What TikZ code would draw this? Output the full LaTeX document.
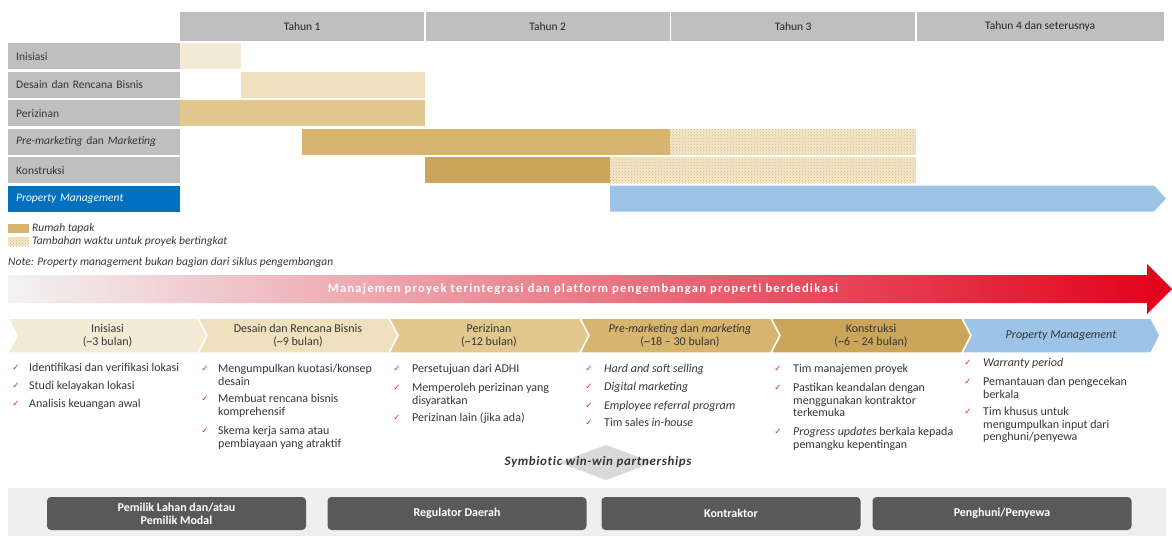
\documentclass[tikz,border=0pt]{standalone}
\usepackage{fontspec}
\setmainfont{Carlito}
\newfontfamily\checkfont{DejaVu Sans}
\newfontfamily\bannerfont[LetterSpace=10, Ligatures=NoCommon]{Carlito}
\newfontfamily\symbfont[LetterSpace=5, Ligatures=NoCommon]{Carlito}
\usetikzlibrary{patterns}

\definecolor{hdrgray}{HTML}{BFBFBF}
\definecolor{txtdark}{HTML}{363636}
\definecolor{pmblue}{HTML}{0070C0}
\definecolor{pmlight}{HTML}{9DC3E6}
\definecolor{tanA}{HTML}{F4EBD6}
\definecolor{tanB}{HTML}{F0E1BE}
\definecolor{tanC}{HTML}{E2C88E}
\definecolor{tanD}{HTML}{D7B56F}
\definecolor{tanE}{HTML}{CBA65A}
\definecolor{hatchbg}{HTML}{F3E6C8}
\definecolor{hatchdot}{HTML}{D9BE84}
\definecolor{bannerred}{HTML}{E2001A}
\definecolor{bannermid}{HTML}{EA4657}
\definecolor{bannerlight}{HTML}{F3F3F3}
\definecolor{panelgray}{HTML}{EFEFEF}
\definecolor{boxgray}{HTML}{595959}
\definecolor{diamondgray}{HTML}{D9D9D9}
\definecolor{checkred}{HTML}{E8212F}

% phase chevron: left, right, colour
\newcommand{\phasechev}[3]{%
  \fill[#3, draw=white, line width=1.5pt] (#1,318) -- (#2,318) -- (#2+9,335.5) -- (#2,353) -- (#1,353) -- (#1+9,335.5) -- cycle;
}
% ticked item: name, x of tick, x of text, y of first line, text
\newcommand{\chkitem}[5]{%
  \node[chk] (#1m) at (#2,#4) {✓};
  \node[bul] (#1) at (#3,#4-5) {#5};
}

\begin{document}
\begin{tikzpicture}[x=1pt, y=-1pt,
    hdr/.style={fill=hdrgray, minimum width=244, minimum height=29, inner sep=0pt, anchor=north west, text=black!85, font=\fontsize{11.5}{13}\selectfont},
    rowlbl/.style={fill=hdrgray, text width=156, inner xsep=8, inner ysep=0, minimum height=26, anchor=north west, align=left, text=txtdark, font=\fontsize{11.5}{13}\selectfont},
    legtxt/.style={anchor=west, inner sep=0pt, text=txtdark, font=\fontsize{11.5}{13}\selectfont\itshape},
    chevtxt/.style={align=center, inner sep=0pt, text=txtdark, font=\fontsize{12}{12.5}\selectfont},
    chk/.style={text=checkred, inner sep=0pt, font=\checkfont\fontsize{8.5}{8.5}\selectfont},
    bul/.style={anchor=north west, inner sep=0pt, align=left, text=txtdark, font=\fontsize{12}{12.5}\selectfont},
    hatch/.style={pattern=crosshatch dots, pattern color=hatchdot},
    partner/.style={fill=boxgray, rounded corners=4pt, minimum width=259, minimum height=33, inner sep=0pt, align=center, text=white, font=\fontsize{12}{13}\selectfont\bfseries}
  ]
  \useasboundingbox (0,0) rectangle (1172,536);
  % Years
  \node[hdr] (yr1) at (180,12) {Tahun 1};
  \node[hdr] (yr2) at (425.5,12) {Tahun 2};
  \node[hdr] (yr3) at (671,12) {Tahun 3};
  \node[hdr, minimum width=247] (yr4) at (916.5,12) {Tahun 4 dan seterusnya};
  % Rows
  \node[rowlbl] (lInisiasi) at (8,43) {Inisiasi};
  \node[rowlbl] (lDesain) at (8,71.5) {Desain dan Rencana Bisnis};
  \node[rowlbl] (lIzin) at (8,100) {Perizinan};
  \node[rowlbl] (lMarketing) at (8,128.5) {\textit{Pre-marketing} dan \textit{Marketing}};
  \node[rowlbl] (lKonstruksi) at (8,157) {Konstruksi};
  \node[rowlbl, fill=pmblue, text=white] (lPM) at (8,185.5) {\textit{Property Management}};
  % Bars
  \fill[tanA] (180,43) rectangle (241,69);
  \fill[tanB] (241,71.5) rectangle (425,97.5);
  \fill[tanC] (180,100) rectangle (425,126);
  \fill[tanD] (302,128.5) rectangle (670,154.5);
  \fill[hatchbg] (670,128.5) rectangle (916,154.5);
  \fill[hatch] (670,128.5) rectangle (916,154.5);
  \fill[tanE] (425,157) rectangle (610,183);
  \fill[hatchbg] (610,157) rectangle (916,183);
  \fill[hatch] (610,157) rectangle (916,183);
  \fill[pmlight] (610,185.5) -- (1154,185.5) -- (1166,198.5) -- (1154,211.5) -- (610,211.5) -- cycle;
  % Legend
  \fill[tanD] (8,224) rectangle (29,233);
  \node[legtxt] (legSolid) at (32,228.5) {Rumah tapak};
  \fill[hatchbg] (8,237) rectangle (29,246);
  \fill[hatch] (8,237) rectangle (29,246);
  \node[legtxt] (legHatch) at (32,241.5) {Tambahan waktu untuk proyek bertingkat};
  \node[legtxt] (legNote) at (8,262) {Note: Property management bukan bagian dari siklus pengembangan};
  % Banner
  \shade[left color=bannerlight, middle color=bannermid, right color=bannerred] (8,275) -- (1147,275) -- (1147,264) -- (1172,289) -- (1147,314) -- (1147,303) -- (8,303) -- cycle;
  \node[text=white, inner sep=0pt, font=\bannerfont\bfseries\fontsize{12.5}{14}\selectfont] (banner) at (583,289) {Manajemen proyek terintegrasi dan platform pengembangan properti berdedikasi};
  % Phases
  \phasechev{8}{198}{tanA}
  \phasechev{198}{389}{tanB}
  \phasechev{389}{580}{tanC}
  \phasechev{580}{771}{tanD}
  \phasechev{771}{962}{tanE}
  \phasechev{962}{1151}{pmlight}
  \node[chevtxt] (phInisiasi) at (107.5,335.5) {Inisiasi\\(\textasciitilde3 bulan)};
  \node[chevtxt] (phDesain) at (298,335.5) {Desain dan Rencana Bisnis\\(\textasciitilde9 bulan)};
  \node[chevtxt] (phIzin) at (489,335.5) {Perizinan\\(\textasciitilde12 bulan)};
  \node[chevtxt] (phMarketing) at (680,335.5) {\textit{Pre-marketing} dan \textit{marketing}\\(\textasciitilde18 -- 30 bulan)};
  \node[chevtxt] (phKonstruksi) at (871,335.5) {Konstruksi\\(\textasciitilde6 -- 24 bulan)};
  \node[chevtxt] (phPM) at (1061,335.5) {\textit{Property Management}};
  % Activities
  \chkitem{a1}{16}{29}{368}{Identifikasi dan verifikasi lokasi}
  \chkitem{a2}{16}{29}{386}{Studi kelayakan lokasi}
  \chkitem{a3}{16}{29}{404}{Analisis keuangan awal}
  %
  \chkitem{b1}{205}{218}{369}{Mengumpulkan kuotasi/konsep\\desain}
  \chkitem{b2}{205}{218}{399}{Membuat rencana bisnis\\komprehensif}
  \chkitem{b3}{205}{218}{431}{Skema kerja sama atau\\pembiayaan yang atraktif}
  %
  \chkitem{c1}{397}{412}{369}{Persetujuan dari ADHI}
  \chkitem{c2}{397}{412}{388}{Memperoleh perizinan yang\\disyaratkan}
  \chkitem{c3}{397}{412}{418}{Perizinan lain (jika ada)}
  %
  \chkitem{d1}{589}{604}{369}{\textit{Hard and soft selling}}
  \chkitem{d2}{589}{604}{387}{\textit{Digital marketing}}
  \chkitem{d3}{589}{604}{406}{\textit{Employee referral program}}
  \chkitem{d4}{589}{604}{423}{Tim sales \textit{in-house}}
  %
  \chkitem{e1}{778}{793}{369}{Tim manajemen proyek}
  \chkitem{e2}{778}{793}{388}{Pastikan keandalan dengan\\menggunakan kontraktor\\terkemuka}
  \chkitem{e3}{778}{793}{432}{\textit{Progress updates} berkala kepada\\pemangku kepentingan}
  %
  \chkitem{f1}{968}{983}{363}{\textit{Warranty period}}
  \chkitem{f2}{968}{983}{382}{Pemantauan dan pengecekan\\berkala}
  \chkitem{f3}{968}{983}{412}{Tim khusus untuk\\mengumpulkan input dari\\penghuni/penyewa}
  % Partnerships
  \fill[diamondgray] (606,445) -- (653,462.5) -- (606,480) -- (559,462.5) -- cycle;
  \node[inner sep=0pt, text=txtdark, font=\symbfont\fontsize{13}{14}\selectfont\bfseries\itshape] (symb) at (598,462) {Symbiotic win-win partnerships};
  \fill[panelgray] (8,488) rectangle (1166,536);
  \node[partner] (pLahan) at (176.5,513.5) {Pemilik Lahan dan/atau\\Pemilik Modal};
  \node[partner] (pRegulator) at (457,513.5) {Regulator Daerah};
  \node[partner] (pKontraktor) at (731,513.5) {Kontraktor};
  \node[partner] (pPenghuni) at (1002,513.5) {Penghuni/Penyewa};
\end{tikzpicture}
\end{document}
